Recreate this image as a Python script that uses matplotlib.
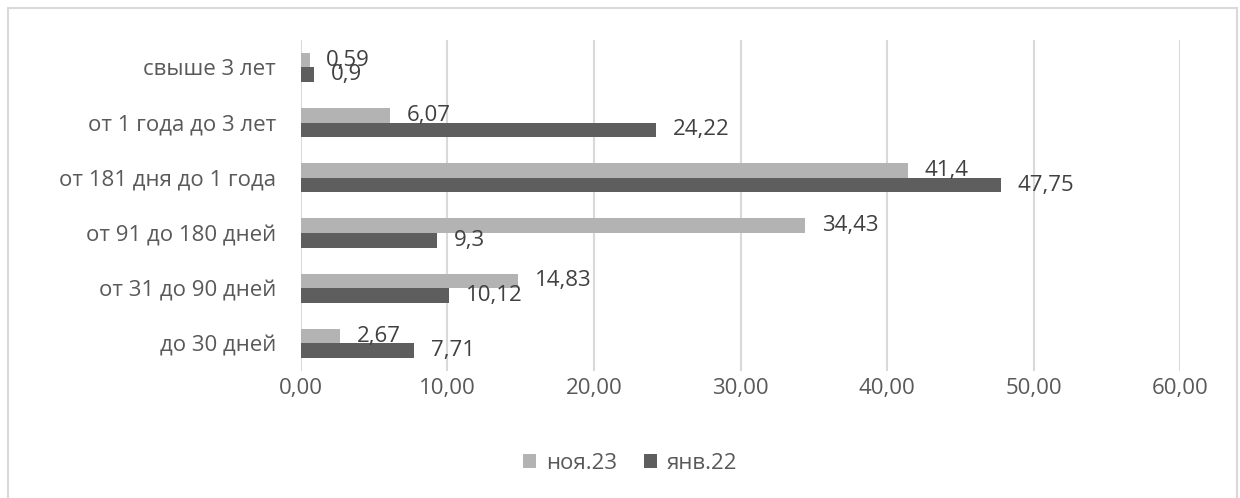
import numpy as np
import matplotlib
matplotlib.use('Agg')
import matplotlib.pyplot as plt
from matplotlib.ticker import FuncFormatter
from matplotlib.patches import Rectangle

plt.rcParams['font.family'] = ['Open Sans', 'DejaVu Sans']

text_colour = '#595959'
grid_colour = '#D9D9D9'
light_colour = '#B3B3B3'
dark_colour = '#5E5E5E'

categories = ['до 30 дней', 'от 31 до 90 дней', 'от 91 до 180 дней',
              'от 181 дня до 1 года', 'от 1 года до 3 лет', 'свыше 3 лет']
nov23 = [2.67, 14.83, 34.43, 41.4, 6.07, 0.59]
jan22 = [7.71, 10.12, 9.3, 47.75, 24.22, 0.9]
series_labels = ['ноя.23', 'янв.22']
x_ticks = [0, 10, 20, 30, 40, 50, 60]


def comma(v):
    return str(v).replace('.', ',')


fig = plt.figure(figsize=(12.4, 4.98), dpi=100)
ax = fig.add_axes([0.2427, 0.255, 0.709, 0.665])

y = np.arange(len(categories))
h = 0.264

bars_light = ax.barh(y + h / 2, nov23, height=h, color=light_colour,
                     label=series_labels[0], zorder=3)
bars_dark = ax.barh(y - h / 2, jan22, height=h, color=dark_colour,
                    label=series_labels[1], zorder=3)

for bars, vals in [(bars_light, nov23), (bars_dark, jan22)]:
    for b, v in zip(bars, vals):
        ax.annotate(comma(v), (v, b.get_y() + b.get_height() / 2),
                    xytext=(12, 0), textcoords='offset points',
                    ha='left', va='center', fontsize=16,
                    color='#404040', zorder=4)

ax.set_xlim(0, 60)
ax.set_ylim(-0.5, len(categories) - 0.5)
ax.set_xticks(x_ticks)
ax.xaxis.set_major_formatter(FuncFormatter(lambda v, p: format(v, '.2f').replace('.', ',')))
ax.set_yticks(y)
ax.set_yticklabels(categories)
ax.tick_params(axis='both', length=0, labelsize=16, labelcolor=text_colour)
ax.tick_params(axis='y', pad=18)
ax.tick_params(axis='x', pad=5)
ax.grid(axis='x', color=grid_colour, linewidth=1.5, zorder=0)
for s in ax.spines.values():
    s.set_visible(False)

leg = ax.legend(loc='center', ncol=2, frameon=False, fontsize=16,
                handlelength=0.6, handleheight=0.6, handletextpad=0.45,
                columnspacing=1.2)
leg.set_bbox_to_anchor((0.508, 1 - 463 / 498), transform=fig.transFigure)
for t in leg.get_texts():
    t.set_color(text_colour)

fig.patches.append(Rectangle((8 / 1240, -0.1), 1229 / 1240, 1.1 - 8 / 498,
                             transform=fig.transFigure, fill=False,
                             edgecolor='#D9D9D9', linewidth=1.5))

fig.savefig('out.png', dpi=100)
